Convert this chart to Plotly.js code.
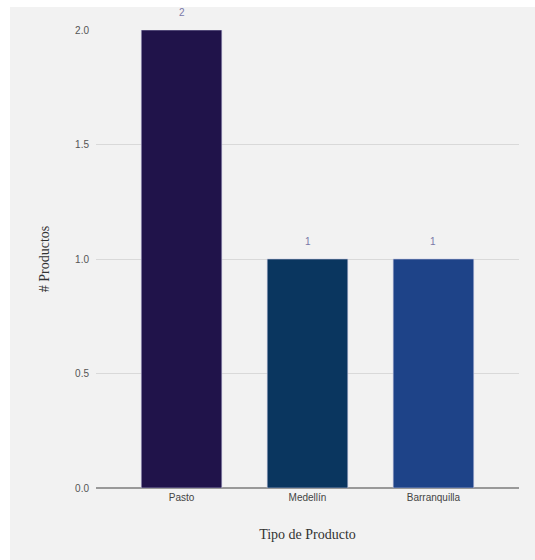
<!DOCTYPE html>
<html>
<head>
<meta charset="utf-8">
<script src="https://cdn.plot.ly/plotly-3.0.1.min.js"></script>
<style>
html,body{margin:0;padding:0;background:#ffffff;width:535px;height:560px;overflow:hidden;}
#chart{position:absolute;left:10px;top:7px;width:525px;height:553px;}
</style>
</head>
<body>
<div id="chart"></div>
<script>
const categories = ["Pasto", "Medellín", "Barranquilla"];
const values = [2, 1, 1];
const barColors = ["#20134a", "#0a365f", "#1e4388"];
const labels = ["2", "1", "1"];

const trace = {
  type: "bar",
  x: categories,
  y: values,
  marker: {color: barColors, line: {color: "#c8c8e0", width: 0.6}},
  width: 0.64,
  hoverinfo: "none"
};

const annotations = categories.map((c, i) => ({
  x: c,
  y: values[i],
  xref: "x",
  yref: "y",
  text: labels[i],
  showarrow: false,
  yanchor: "bottom",
  yshift: 10,
  font: {family: "Liberation Sans, Arial, sans-serif", size: 10, color: "#7a78a8"}
}));

const layout = {
  width: 525,
  height: 553,
  margin: {l: 86, r: 16, t: 23, b: 72},
  paper_bgcolor: "#f2f2f2",
  plot_bgcolor: "#f2f2f2",
  showlegend: false,
  annotations: annotations,
  font: {family: "Liberation Sans, Arial, sans-serif", size: 10, color: "#555555"},
  xaxis: {
    type: "category",
    range: [-0.679, 2.679],
    showgrid: false,
    zeroline: false,
    showline: false,
    ticks: "",
    ticklabelstandoff: 2,
    tickfont: {family: "Liberation Sans, Arial, sans-serif", size: 10, color: "#444444"},
    title: {text: "Tipo de Producto", font: {family: "Liberation Serif, Times New Roman, serif", size: 14, color: "#333333"}, standoff: 27}
  },
  yaxis: {
    range: [0, 2],
    tickvals: [0, 0.5, 1, 1.5, 2],
    ticktext: ["0.0", "0.5", "1.0", "1.5", "2.0"],
    showgrid: true,
    gridcolor: "#d9d9d9",
    gridwidth: 1,
    zeroline: true,
    zerolinecolor: "#999999",
    zerolinewidth: 1.3,
    showline: false,
    ticks: "",
    ticklabelstandoff: 6,
    tickfont: {family: "Liberation Sans, Arial, sans-serif", size: 10, color: "#555555"},
    title: {text: "# Productos", font: {family: "Liberation Serif, Times New Roman, serif", size: 14, color: "#333333"}, standoff: 22}
  }
};

Plotly.newPlot("chart", [trace], layout, {displayModeBar: false, staticPlot: true});
</script>
</body>
</html>
